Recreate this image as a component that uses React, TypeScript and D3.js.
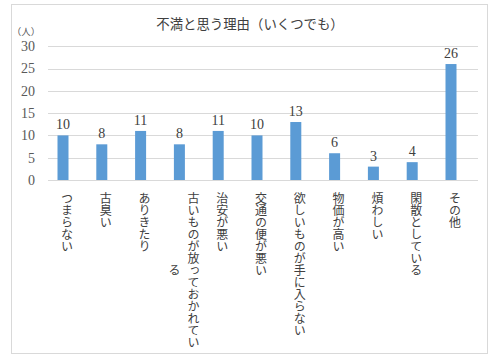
import React from "react";
import * as d3 from "d3";

const categories: string[] = [
  "つまらない",
  "古臭い",
  "ありきたり",
  "古いものが放っておかれている",
  "治安が悪い",
  "交通の便が悪い",
  "欲しいものが手に入らない",
  "物価が高い",
  "煩わしい",
  "閑散としている",
  "その他",
];
const values: number[] = [10, 8, 11, 8, 11, 10, 13, 6, 3, 4, 26];
const yTicks: number[] = [0, 5, 10, 15, 20, 25, 30];
const title = "不満と思う理由（いくつでも）";
const unitLabel = "（人）";

const W = 500;
const H = 363;
const MAX_CHARS = 13;

function wrapLabel(s: string): string[] {
  const chars = Array.from(s);
  const out: string[] = [];
  for (let i = 0; i < chars.length; i += MAX_CHARS) out.push(chars.slice(i, i + MAX_CHARS).join(""));
  return out;
}

export default function App() {
  const x = d3.scaleBand<string>().domain(categories).range([43.6, 470.4]).padding(0);
  const y = d3.scaleLinear().domain([0, 30]).range([180, 46.2]);
  const barW = 11;
  const gridX1 = 48;
  const gridX2 = 478;
  const jp = "'Noto Sans CJK JP', 'Noto Sans', sans-serif";
  const serif = "'Liberation Serif', 'DejaVu Serif', serif";
  const labelFont = 12;
  const labelTop = 192;
  const colGap = 19;

  return (
    <svg width={W} height={H} style={{ position: "absolute", left: 0, top: 0, background: "#fff" }}>
      <rect x={11.5} y={4.5} width={476} height={349} fill="#fff" stroke="#d9d9d9" strokeWidth={1} />
      <text x={250} y={29} textAnchor="middle" fontFamily={jp} fontSize={13.4} fill="#404040">
        {title}
      </text>
      <text x={26} y={35} textAnchor="middle" fontFamily={jp} fontSize={9.5} fill="#595959">
        {unitLabel}
      </text>
      {yTicks.map((t) => (
        <g key={t}>
          <line x1={gridX1} x2={gridX2} y1={Math.round(y(t)) + 0.5} y2={Math.round(y(t)) + 0.5} stroke="#d9d9d9" strokeWidth={1} />
          <text x={35} y={y(t)} dy="0.35em" textAnchor="end" fontFamily={serif} fontSize={14} fill="#595959">
            {t}
          </text>
        </g>
      ))}
      {categories.map((c, i) => {
        const cx = (x(c) as number) + x.bandwidth() / 2;
        const v = values[i];
        const lines = wrapLabel(c);
        const firstLen = Array.from(lines[0]).length * labelFont;
        return (
          <g key={c}>
            <rect x={cx - barW / 2} y={y(v)} width={barW} height={y(0) - y(v)} fill="#5b9bd5" />
            <text x={cx} y={y(v) - 6} textAnchor="middle" fontFamily={serif} fontSize={14} fill="#404040">
              {v}
            </text>
            {lines.map((ln, j) => {
              const lx = cx + 4 + (lines.length > 1 ? 10 - j * colGap : 0);
              const len = Array.from(ln).length * labelFont;
              const ly = j === 0 ? labelTop : labelTop + (firstLen - len) / 2;
              return (
                <text
                  key={j}
                  x={lx}
                  y={ly}
                  fontFamily={jp}
                  fontSize={labelFont}
                  fill="#404040"
                  style={{ writingMode: "vertical-rl", textOrientation: "upright" } as any}
                >
                  {ln}
                </text>
              );
            })}
          </g>
        );
      })}
    </svg>
  );
}
